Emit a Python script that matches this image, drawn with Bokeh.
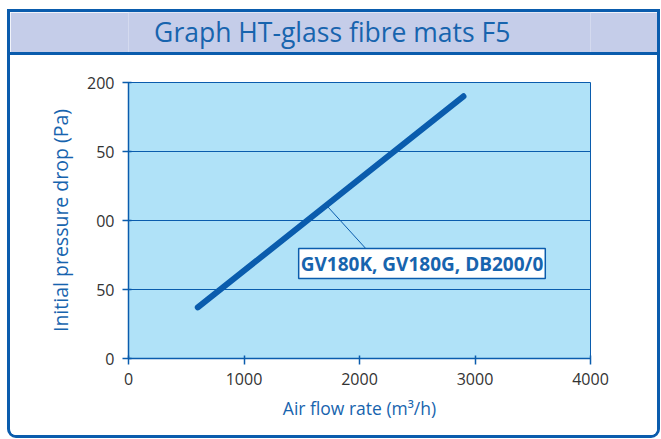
from bokeh.plotting import figure
from bokeh.models import Label, Range1d, FixedTicker, Div
from bokeh.layouts import column
from bokeh.core.properties import value
from bokeh.embed import file_html
from bokeh.resources import INLINE

# data
flow = [600, 2900]
pressure = [37, 190]
x_ticks = [0, 1000, 2000, 3000, 4000]
y_ticks = [0, 50, 100, 150, 200]
y_tick_labels = {0: "0", 50: "50", 100: "00", 150: "50", 200: "200"}
leader_x = [1714, 2078]
leader_y = [111, 77.5]
callout_text = "GV180K, GV180G, DB200/0"
callout_pos = (2541, 68.8)
title_text = "Graph HT-glass fibre mats F5"

BLUE = "#0a5cad"
TXTBLUE = "#1764ae"
BAND = "#c5cde9"
W = 647

# title band
t = figure(width=W, height=40, output_backend="svg", toolbar_location=None,
           x_range=Range1d(0, 1), y_range=Range1d(0, 1), min_border=0)
t.axis.visible = False
t.grid.visible = False
t.background_fill_color = BAND
t.border_fill_color = BAND
t.outline_line_color = None
t.text(x=[0.441], y=[0.515], text=[title_text], text_align="center", text_baseline="middle",
       text_font=value("Open Sans"), text_font_size="26.5px", text_color=TXTBLUE)

band_line = Div(width=W, height=3, margin=0, styles={"background-color": BLUE})

p = figure(width=W, height=380, output_backend="svg", toolbar_location=None,
           x_range=Range1d(0, 4000), y_range=Range1d(0, 200),
           min_border_left=118, min_border_right=67, min_border_top=27, min_border_bottom=77)
p.background_fill_color = "#b0e2f8"
p.border_fill_color = "white"
p.outline_line_color = BLUE
p.outline_line_width = 1

p.xgrid.grid_line_color = None
p.ygrid.grid_line_color = BLUE
p.ygrid.grid_line_width = 1

for ax in (p.xaxis[0], p.yaxis[0]):
    ax.axis_line_color = BLUE
    ax.axis_line_width = 1.5
    ax.major_tick_line_color = BLUE
    ax.major_tick_line_width = 1.5
    ax.major_tick_out = 6
    ax.major_tick_in = 3
    ax.minor_tick_line_color = None
    ax.major_label_text_color = "#333333"
    ax.major_label_text_font = "Open Sans"
    ax.major_label_text_font_size = "16px"
    ax.axis_label_text_color = TXTBLUE
    ax.axis_label_text_font = "Open Sans"
    ax.axis_label_text_font_style = "normal"

p.xaxis.axis_label_text_font_size = "17.5px"
p.yaxis.axis_label_text_font_size = "19.5px"
p.xaxis.ticker = FixedTicker(ticks=x_ticks)
p.yaxis.ticker = FixedTicker(ticks=y_ticks)
p.yaxis.major_label_overrides = {k: v for k, v in y_tick_labels.items()}
p.xaxis.axis_label = "Air flow rate (m³/h)"
p.yaxis.axis_label = "Initial pressure drop (Pa)"
p.xaxis.major_label_standoff = 8
p.yaxis.major_label_standoff = 8
p.xaxis.axis_label_standoff = 8
p.yaxis.axis_label_standoff = 10

p.line(flow, pressure, line_width=6, line_color=BLUE, line_cap="round")
p.line(leader_x, leader_y, line_width=1, line_color=BLUE)

p.add_layout(Label(x=callout_pos[0], y=callout_pos[1], text=callout_text,
                   text_align="center", text_baseline="middle",
                   text_font="Open Sans", text_font_size="19px", text_font_style="bold",
                   text_color=TXTBLUE, background_fill_color="white",
                   border_line_color=BLUE, border_line_width=1.5, padding=2))

layout = column(t, band_line, p, spacing=0,
                styles={"border": f"3px solid {BLUE}",
                        "border-radius": "0px 0px 9px 9px",
                        "overflow": "hidden", "margin-left": "7px", "margin-top": "9px"})

open("out.html", "w").write(file_html(layout, INLINE))
